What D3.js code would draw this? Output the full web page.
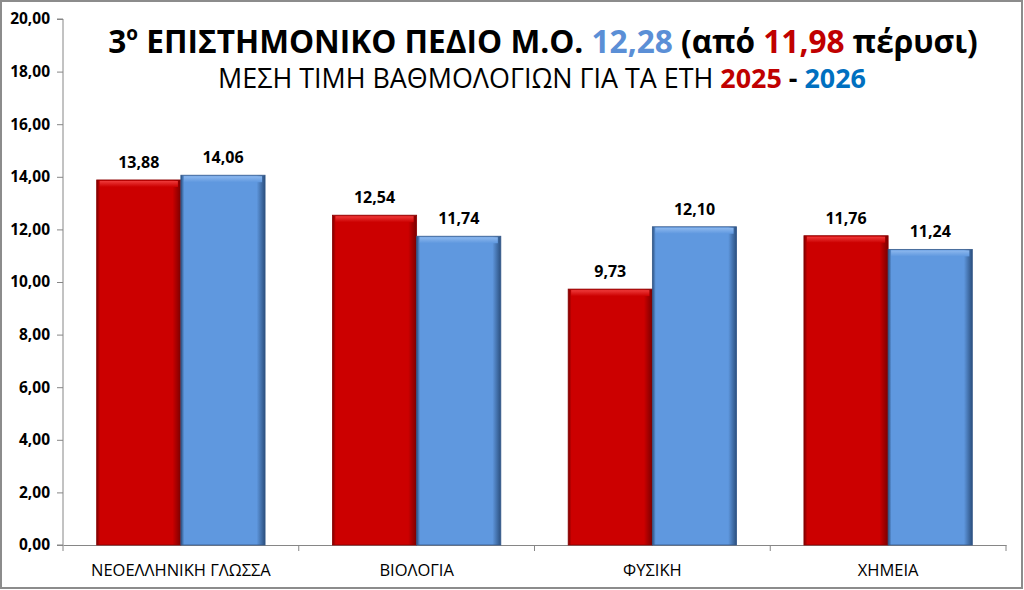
<!DOCTYPE html>
<html>
<head>
<meta charset="utf-8">
<script src="https://cdn.jsdelivr.net/npm/d3@7"></script>
<style>
    body { margin: 0; background: #fff; }
    svg { display: block; font-family: "Liberation Sans Narrow", "Open Sans", "Liberation Sans", sans-serif; }
</style>
</head>
<body>
<div id="chart"></div>
<script>
    var categories = ['ΝΕΟΕΛΛΗΝΙΚΗ ΓΛΩΣΣΑ', 'ΒΙΟΛΟΓΙΑ', 'ΦΥΣΙΚΗ', 'ΧΗΜΕΙΑ'];
    var series2025 = [13.88, 12.54, 9.73, 11.76];
    var series2026 = [14.06, 11.74, 12.10, 11.24];
    var yTicks = [0, 2, 4, 6, 8, 10, 12, 14, 16, 18, 20];

    var width = 1024;
    var height = 590;
    var margin = {top: 19, right: 18, bottom: 45, left: 63};
    var plotW = width - margin.left - margin.right;
    var plotH = height - margin.top - margin.bottom;
    var labelFont = '"Open Sans", "Liberation Sans", sans-serif';

    var fmt = function (v) {
        return v.toFixed(2).replace('.', ',');
    };

    var svg = d3.select('#chart').append('svg')
        .attr('width', width)
        .attr('height', height);

    // gradients for the bevelled bars
    var defs = svg.append('defs');
    function addGrad(id, light, mid, dark) {
        var g = defs.append('linearGradient').attr('id', id)
            .attr('x1', 0).attr('x2', 1).attr('y1', 0).attr('y2', 0);
        g.append('stop').attr('offset', '0%').attr('stop-color', dark);
        g.append('stop').attr('offset', '4%').attr('stop-color', mid);
        g.append('stop').attr('offset', '90%').attr('stop-color', mid);
        g.append('stop').attr('offset', '100%').attr('stop-color', dark);
        var t = defs.append('linearGradient').attr('id', id + 'Top')
            .attr('x1', 0).attr('x2', 0).attr('y1', 0).attr('y2', 1);
        t.append('stop').attr('offset', '0%').attr('stop-color', light);
        t.append('stop').attr('offset', '100%').attr('stop-color', mid);
    }
    addGrad('gRed', '#ee3a3a', '#cc0000', '#7a0000');
    addGrad('gBlue', '#8db8ee', '#5f98df', '#2b4f7e');

    svg.append('rect')
        .attr('x', 1).attr('y', 1)
        .attr('width', width - 3).attr('height', height - 3)
        .attr('fill', '#fff')
        .attr('stroke', '#8c8c8c')
        .attr('stroke-width', 2);

    var g = svg.append('g')
        .attr('transform', 'translate(' + margin.left + ',' + margin.top + ')');

    var x = d3.scaleBand().domain(categories).range([0, plotW]).paddingInner(0).paddingOuter(0);
    var inner = d3.scaleBand().domain(['2025', '2026']).range([0, x.bandwidth()]).paddingOuter(0.4).paddingInner(0);
    var y = d3.scaleLinear().domain([0, 20]).range([plotH, 0]);

    // y axis
    var yAxis = g.append('g')
        .call(d3.axisLeft(y).tickValues(yTicks).tickSize(6).tickPadding(7).tickFormat(fmt));
    yAxis.select('.domain').attr('stroke', '#868686').attr('d', 'M-6,' + plotH + 'H0V0H-6');
    yAxis.selectAll('.tick line').attr('stroke', '#868686');
    yAxis.selectAll('.tick text')
        .attr('font-size', 15.5).attr('font-weight', 'bold').attr('fill', '#000')
        .style('font-family', labelFont);

    // x axis
    var xAxis = g.append('g')
        .attr('transform', 'translate(0,' + plotH + ')')
        .call(d3.axisBottom(x).tickSize(0).tickPadding(19));
    xAxis.select('.domain').attr('stroke', '#868686');
    xAxis.selectAll('.tick text')
        .attr('font-size', 16.5).attr('fill', '#000')
        .style('font-family', labelFont);
    xAxis.selectAll('.sep')
        .data(d3.range(categories.length + 1))
        .enter().append('line')
        .attr('x1', function (i) { return i * x.step(); })
        .attr('x2', function (i) { return i * x.step(); })
        .attr('y1', 0).attr('y2', 6)
        .attr('stroke', '#868686');

    var seriesData = [
        {key: '2025', values: series2025, fill: 'gRed', edge: '#8a0000'},
        {key: '2026', values: series2026, fill: 'gBlue', edge: '#35598a'}
    ];

    seriesData.forEach(function (s) {
        var bars = g.selectAll('.bar-' + s.key)
            .data(s.values)
            .enter().append('g')
            .attr('class', 'bar-' + s.key)
            .attr('transform', function (d, i) {
                return 'translate(' + (x(categories[i]) + inner(s.key)) + ',0)';
            });

        bars.append('rect')
            .attr('x', 0)
            .attr('y', function (d) { return y(d); })
            .attr('width', inner.bandwidth())
            .attr('height', function (d) { return plotH - y(d); })
            .attr('fill', 'url(#' + s.fill + ')')
            .attr('stroke', s.edge)
            .attr('stroke-width', 0.8);

        bars.append('rect')
            .attr('x', 3)
            .attr('y', function (d) { return y(d) + 1; })
            .attr('width', inner.bandwidth() - 6)
            .attr('height', 6)
            .attr('fill', 'url(#' + s.fill + 'Top)');

        bars.append('text')
            .attr('x', inner.bandwidth() / 2)
            .attr('y', function (d) { return y(d) - 12; })
            .attr('text-anchor', 'middle')
            .attr('font-size', 16)
            .attr('font-weight', 'bold')
            .style('font-family', labelFont)
            .text(fmt);
    });

    // titles, font size fitted to the reference width
    function fitText(sel, target) {
        var w = sel.node().getComputedTextLength();
        var fs = +sel.attr('font-size');
        sel.attr('font-size', fs * target / w);
    }

    var title = svg.append('text')
        .attr('x', 543).attr('y', 53)
        .attr('text-anchor', 'middle')
        .attr('font-size', 34)
        .attr('font-weight', 'bold');
    title.append('tspan').text('3');
    title.append('tspan').attr('font-size', '0.6em').attr('baseline-shift', 'super').text('ο');
    title.append('tspan').text(' ΕΠΙΣΤΗΜΟΝΙΚΟ ΠΕΔΙΟ Μ.Ο. ');
    title.append('tspan').attr('fill', '#5b8fd6').text('12,28');
    title.append('tspan').text(' (από ');
    title.append('tspan').attr('fill', '#c00000').text('11,98');
    title.append('tspan').text(' πέρυσι)');
    fitText(title, 870);

    var sub = svg.append('text')
        .attr('x', 542).attr('y', 88)
        .attr('text-anchor', 'middle')
        .attr('font-size', 25);
    sub.append('tspan').text('ΜΕΣΗ ΤΙΜΗ ΒΑΘΜΟΛΟΓΙΩΝ ΓΙΑ ΤΑ ΕΤΗ ');
    sub.append('tspan').attr('fill', '#c00000').attr('font-weight', 'bold').text('2025');
    sub.append('tspan').attr('font-weight', 'bold').text(' - ');
    sub.append('tspan').attr('fill', '#0070c0').attr('font-weight', 'bold').text('2026');
    fitText(sub, 648);
</script>
</body>
</html>
